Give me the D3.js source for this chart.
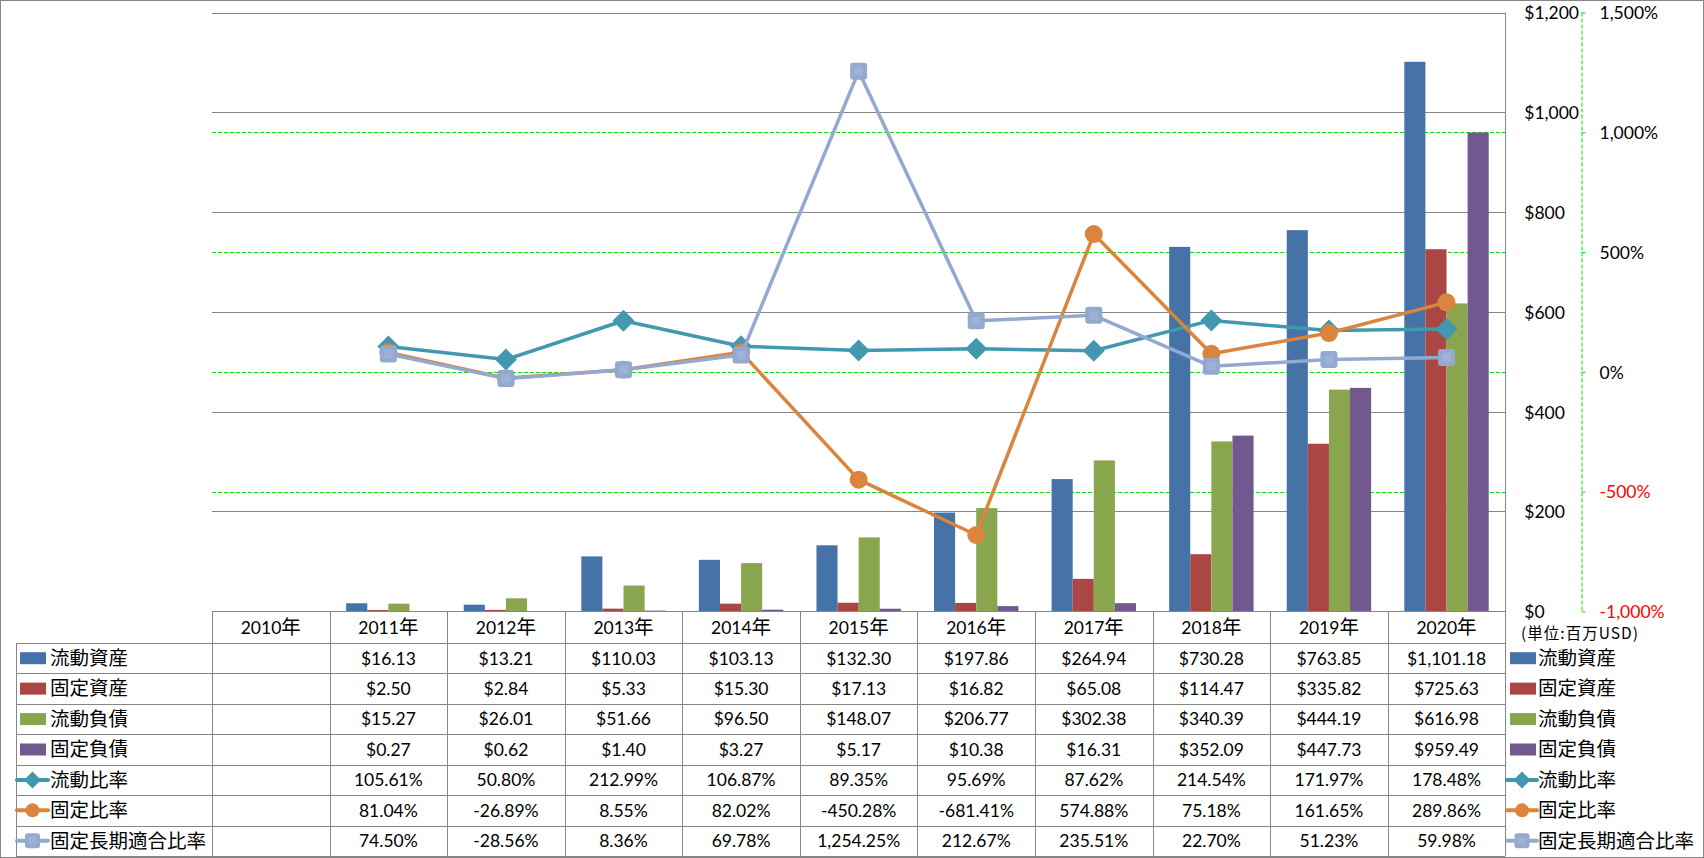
<!DOCTYPE html>
<html><head><meta charset="utf-8">
<script src="https://cdn.jsdelivr.net/npm/d3@7"></script>
<style>
html,body{margin:0;padding:0;background:#fff;}
svg{display:block;}
.num{font-family:Lato,"Noto Sans CJK JP",sans-serif;font-size:17.5px;fill:#000;}
.cjk{font-family:"Noto Sans CJK JP",sans-serif;font-size:19.5px;fill:#000;}
</style></head><body><div id="chart"></div>
<script>
// ---------- data ----------
const categories = ["2010年","2011年","2012年","2013年","2014年","2015年","2016年","2017年","2018年","2019年","2020年"];
const currentAssets      = [null, 16.13, 13.21, 110.03, 103.13, 132.30, 197.86, 264.94, 730.28, 763.85, 1101.18];
const fixedAssets        = [null, 2.50, 2.84, 5.33, 15.30, 17.13, 16.82, 65.08, 114.47, 335.82, 725.63];
const currentLiabilities = [null, 15.27, 26.01, 51.66, 96.50, 148.07, 206.77, 302.38, 340.39, 444.19, 616.98];
const fixedLiabilities   = [null, 0.27, 0.62, 1.40, 3.27, 5.17, 10.38, 16.31, 352.09, 447.73, 959.49];
const currentRatio       = [null, 105.61, 50.80, 212.99, 106.87, 89.35, 95.69, 87.62, 214.54, 171.97, 178.48];
const fixedRatio         = [null, 81.04, -26.89, 8.55, 82.02, -450.28, -681.41, 574.88, 75.18, 161.65, 289.86];
const fixedLongTermRatio = [null, 74.50, -28.56, 8.36, 69.78, 1254.25, 212.67, 235.51, 22.70, 51.23, 59.98];
const leftTicks  = [0, 200, 400, 600, 800, 1000, 1200];
const rightTicks = [-1000, -500, 0, 500, 1000, 1500];
const unitLabel = "(単位:百万USD)";

const barNames  = ["流動資産","固定資産","流動負債","固定負債"];
const lineNames = ["流動比率","固定比率","固定長期適合比率"];

// ---------- build ----------
const W = 1704, H = 858;
const plot = {left: 212, right: 1505.3, top: 12.5, bottom: 611.3};
const tableBottom = 856, headerBottom = 643;

const loc = d3.formatLocale({decimal: ".", thousands: ",", grouping: [3], currency: ["$", ""], minus: "-"});
const fmtInt = loc.format(",");
const fmt2 = loc.format(",.2f");

const bars = [
  {name: barNames[0], values: currentAssets, color: "#4572A7"},
  {name: barNames[1], values: fixedAssets, color: "#AA4643"},
  {name: barNames[2], values: currentLiabilities, color: "#89A54E"},
  {name: barNames[3], values: fixedLiabilities, color: "#71588F"}
];
const lines = [
  {name: lineNames[0], values: currentRatio, color: "#4198AF", marker: "diamond"},
  {name: lineNames[1], values: fixedRatio, color: "#DB843D", marker: "circle"},
  {name: lineNames[2], values: fixedLongTermRatio, color: "#93A9CF", marker: "square"}
];

const svg = d3.select("#chart").append("svg").attr("width", W).attr("height", H);
svg.append("rect").attr("x",0).attr("y",0).attr("width",W).attr("height",H).attr("fill","#fff");

const x = d3.scaleBand().domain(categories).range([plot.left, plot.right]).paddingInner(0).paddingOuter(0);
const xs = d3.scaleBand().domain(barNames).range([0, x.bandwidth()]).paddingInner(0).paddingOuter(0.786);
const yL = d3.scaleLinear().domain([0, 1200]).range([plot.bottom, plot.top]);
const yR = d3.scaleLinear().domain([-1000, 1500]).range([plot.bottom, plot.top]);

const gridGray = "#868686";
const green = "#00E000";

// green dashed gridlines (secondary)
svg.append("g").selectAll("line").data(rightTicks.filter(d => d > -1000 && d < 1500)).join("line")
  .attr("x1", plot.left).attr("x2", plot.right)
  .attr("y1", d => Math.round(yR(d)) + 0.5).attr("y2", d => Math.round(yR(d)) + 0.5)
  .attr("stroke", green).attr("stroke-width", 1).attr("stroke-dasharray", "4,2");

// gray gridlines (primary)
svg.append("g").selectAll("line").data(leftTicks).join("line")
  .attr("x1", plot.left).attr("x2", plot.right)
  .attr("y1", d => Math.round(yL(d)) + 0.5).attr("y2", d => Math.round(yL(d)) + 0.5)
  .attr("stroke", gridGray).attr("stroke-width", 1);

// bars
const barG = svg.append("g");
bars.forEach(s => {
  barG.append("g").selectAll("rect").data(categories.map((c, i) => ({c, v: s.values[i]})).filter(d => d.v != null)).join("rect")
    .attr("x", d => x(d.c) + xs(s.name))
    .attr("width", xs.bandwidth())
    .attr("y", d => yL(d.v))
    .attr("height", d => yL(0) - yL(d.v))
    .attr("fill", s.color);
});

// markers
function drawMarker(g, type, color, cx, cy, big) {
  if (type === "diamond") {
    const r = big ? 11 : 8.5;
    g.append("path").attr("d", `M0,${-r}L${r},0L0,${r}L${-r},0Z`).attr("transform", `translate(${cx},${cy})`).attr("fill", color);
  } else if (type === "circle") {
    g.append("circle").attr("cx", cx).attr("cy", cy).attr("r", big ? 9 : 7).attr("fill", color);
  } else {
    const s = big ? 17 : 15;
    g.append("rect").attr("x", cx - s/2).attr("y", cy - s/2).attr("width", s).attr("height", s).attr("rx", 3).attr("fill", color);
    g.append("rect").attr("x", cx - s/4).attr("y", cy - s/4).attr("width", s/2).attr("height", s/2).attr("fill", "#9DB2D6");
  }
}

// lines
const lineG = svg.append("g");
lines.forEach(s => {
  const pts = categories.map((c, i) => ({c, v: s.values[i]}));
  const gen = d3.line().defined(d => d.v != null).x(d => x(d.c) + x.bandwidth()/2).y(d => yR(d.v));
  const g = lineG.append("g");
  g.append("path").datum(pts).attr("d", gen).attr("fill", "none").attr("stroke", s.color)
    .attr("stroke-width", 3.5).attr("stroke-linejoin", "round").attr("stroke-linecap", "round");
  pts.filter(d => d.v != null).forEach(d => drawMarker(g, s.marker, s.color, x(d.c) + x.bandwidth()/2, yR(d.v), true));
});

// primary axis (labels on the right of plot)
const axL = svg.append("g").attr("transform", `translate(${plot.right},0)`)
  .call(d3.axisRight(yL).tickValues(leftTicks).tickSize(0).tickPadding(19).tickFormat(d => "$" + fmtInt(d)));
axL.select(".domain").remove();
axL.selectAll("text").attr("class", "num").attr("font-family", null).attr("font-size", null).attr("fill", null).attr("dy", "0.36em");

// secondary axis
const axR = svg.append("g").attr("transform", `translate(1581.5,0)`)
  .call(d3.axisRight(yR).tickValues(rightTicks).tickSize(4).tickSizeOuter(0).tickPadding(14).tickFormat(d => fmtInt(d) + "%"));
axR.select(".domain").attr("stroke", green).attr("stroke-dasharray", "4,2").attr("d", `M0.5,${plot.top}V${plot.bottom}`);
axR.selectAll(".tick line").attr("stroke", green).attr("stroke-dasharray", "4,2");
axR.selectAll("text").attr("class", "num").attr("font-family", null).attr("font-size", null).attr("fill", null)
  .attr("dy", "0.36em").style("fill", d => d < 0 ? "#FF0000" : "#000");

// unit label
svg.append("text").attr("x", 1521).attr("y", 638.5)
  .attr("font-family", '"Noto Sans CJK JP",sans-serif').attr("font-size", 15.5).attr("fill", "#000")
  .attr("textLength", 117).attr("lengthAdjust", "spacing").text(unitLabel);

// ---------- data table ----------
const tg = svg.append("g");
const rowH = (tableBottom - headerBottom) / 7;
const rowTop = i => headerBottom + i * rowH;
const hline = (x1, x2, y) => tg.append("line").attr("x1", x1).attr("x2", x2).attr("y1", Math.round(y)+0.5).attr("y2", Math.round(y)+0.5).attr("stroke", gridGray);
const vline = (xx, y1, y2) => tg.append("line").attr("x1", Math.round(xx)+0.5).attr("x2", Math.round(xx)+0.5).attr("y1", y1).attr("y2", y2).attr("stroke", gridGray);

hline(plot.left, plot.right, plot.bottom);
for (let i = 0; i <= 7; i++) hline(16, plot.right, rowTop(i));
vline(16, headerBottom, tableBottom);
categories.forEach(c => vline(x(c), plot.bottom, tableBottom));
vline(plot.right, plot.top, tableBottom);

// header
categories.forEach(c => {
  const t = tg.append("text").attr("x", x(c) + x.bandwidth()/2).attr("y", (plot.bottom + headerBottom)/2 + 6.8).attr("text-anchor", "middle");
  const m = c.match(/^(\d+)(.*)$/);
  t.append("tspan").attr("class", "num").text(m[1]);
  t.append("tspan").attr("class", "cjk").attr("font-size", 19).text(m[2]);
});

const fmtMoney = v => "$" + fmt2(v);
const fmtPct = v => fmt2(v) + "%";
const rows = [
  ...bars.map(s => ({name: s.name, color: s.color, values: s.values, fmt: fmtMoney, kind: "bar"})),
  ...lines.map(s => ({name: s.name, color: s.color, values: s.values, fmt: fmtPct, kind: "line", marker: s.marker}))
];

function legendKey(g, r, x0, x1, cy) {
  if (r.kind === "bar") {
    g.append("rect").attr("x", x0 + 3).attr("y", cy - 6).attr("width", 26).attr("height", 12).attr("fill", r.color);
  } else {
    g.append("line").attr("x1", x0).attr("x2", x1).attr("y1", cy).attr("y2", cy).attr("stroke", r.color).attr("stroke-width", 4).attr("stroke-linecap", "round");
    drawMarker(g, r.marker, r.color, (x0 + x1)/2, cy, false);
  }
}

rows.forEach((r, i) => {
  const cy = rowTop(i) + rowH/2;
  legendKey(tg, r, 17, 48, cy);
  tg.append("text").attr("class", "cjk").attr("x", 50).attr("y", cy + 6.8).text(r.name);
  legendKey(tg, r, 1507, 1537, cy);
  tg.append("text").attr("class", "cjk").attr("x", 1538).attr("y", cy + 6.8).text(r.name);
  tg.append("g").selectAll("text").data(categories.map((c, j) => ({c, v: r.values[j]})).filter(d => d.v != null)).join("text")
    .attr("class", "num").attr("x", d => x(d.c) + x.bandwidth()/2).attr("y", cy + 6.3)
    .attr("text-anchor", "middle").text(d => r.fmt(d.v));
});

// outer border
svg.append("rect").attr("x", 0.5).attr("y", 0.5).attr("width", W - 1).attr("height", H - 1)
  .attr("fill", "none").attr("stroke", gridGray);
</script></body></html>
